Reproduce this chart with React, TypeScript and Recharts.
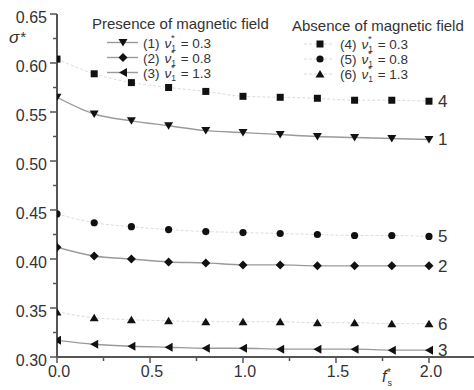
import React from 'react';
import { LineChart, Line, XAxis, YAxis, LabelList } from 'recharts';

const xValues = [0, 0.2, 0.4, 0.6, 0.8, 1.0, 1.2, 1.4, 1.6, 1.8, 2.0];
// Presence of magnetic field
const s1 = [0.565, 0.548, 0.541, 0.536, 0.531, 0.529, 0.527, 0.525, 0.524, 0.523, 0.522];
const s2 = [0.412, 0.403, 0.400, 0.397, 0.396, 0.394, 0.394, 0.393, 0.393, 0.393, 0.393];
const s3 = [0.317, 0.313, 0.311, 0.310, 0.309, 0.309, 0.308, 0.308, 0.308, 0.307, 0.307];
// Absence of magnetic field
const s4 = [0.604, 0.589, 0.580, 0.575, 0.571, 0.566, 0.565, 0.564, 0.562, 0.562, 0.561];
const s5 = [0.446, 0.437, 0.433, 0.430, 0.428, 0.427, 0.426, 0.425, 0.424, 0.424, 0.423];
const s6 = [0.346, 0.340, 0.338, 0.337, 0.336, 0.336, 0.336, 0.335, 0.335, 0.334, 0.334];

const xTicks = [0, 0.25, 0.5, 0.75, 1.0, 1.25, 1.5, 1.75, 2.0];
const yTicks = [0.3, 0.325, 0.35, 0.375, 0.4, 0.425, 0.45, 0.475, 0.5, 0.525, 0.55, 0.575, 0.6, 0.625, 0.65];

const data = xValues.map((x, i) => ({ x, s1: s1[i], s2: s2[i], s3: s3[i], s4: s4[i], s5: s5[i], s6: s6[i] }));

const FONT = '"Liberation Sans", Arial, sans-serif';
const AX = '#555';
const TXT = '#333';

const isMajor = (v: number, step: number) => Math.abs(v / step - Math.round(v / step)) < 1e-6;

const XTick = (props: any) => {
  const { x, y, payload } = props;
  const v = payload.value;
  const major = isMajor(v, 0.5);
  return (
    <g>
      <line x1={x} x2={x} y1={y} y2={y + (major ? 6 : 4)} stroke={AX} strokeWidth={1.5} />
      {major && (
        <text x={x + 2} y={y + 20} textAnchor="middle" fontSize={16} fill={TXT} fontFamily={FONT}>
          {v.toFixed(1)}
        </text>
      )}
    </g>
  );
};

const YTick = (props: any) => {
  const { x, y, payload } = props;
  const v = payload.value;
  const major = isMajor(v, 0.05);
  return (
    <g>
      <line x1={x - (major ? 7 : 4)} x2={x} y1={y} y2={y} stroke={AX} strokeWidth={1.5} />
      {major && (
        <text x={x - 10} y={y + 9} textAnchor="end" fontSize={16} fill={TXT} fontFamily={FONT}>
          {v.toFixed(2)}
        </text>
      )}
    </g>
  );
};

const EmptyTick = () => <g />;

type Shape = 'down' | 'diamond' | 'left' | 'square' | 'circle' | 'up';

const marker = (shape: Shape, cx: number, cy: number, key?: any) => {
  const f = '#111';
  switch (shape) {
    case 'down':
      return <polygon key={key} points={`${cx - 4.5},${cy - 3.5} ${cx + 4.5},${cy - 3.5} ${cx},${cy + 4}`} fill={f} />;
    case 'up':
      return <polygon key={key} points={`${cx - 4.5},${cy + 3.5} ${cx + 4.5},${cy + 3.5} ${cx},${cy - 4}`} fill={f} />;
    case 'left':
      return <polygon key={key} points={`${cx + 4},${cy - 4.5} ${cx + 4},${cy + 4.5} ${cx - 4},${cy}`} fill={f} />;
    case 'diamond':
      return <polygon key={key} points={`${cx},${cy - 4.5} ${cx + 4.5},${cy} ${cx},${cy + 4.5} ${cx - 4.5},${cy}`} fill={f} />;
    case 'square':
      return <rect key={key} x={cx - 3.5} y={cy - 3.5} width={7} height={7} fill={f} />;
    default:
      return <circle key={key} cx={cx} cy={cy} r={3.6} fill={f} />;
  }
};

const makeDot = (shape: Shape) => (p: any) => {
  if (p.cx == null || p.cy == null) return <g key={p.key} />;
  return marker(shape, p.cx, p.cy, p.key ?? `${shape}-${p.index}`);
};

const endLabel = (name: string) => (p: any) => {
  if (p.index !== xValues.length - 1) return null;
  return (
    <text x={p.x + 9} y={p.y + 6} fontSize={17} fill={TXT} fontFamily={FONT}>
      {name}
    </text>
  );
};

const series: { key: string; shape: Shape; name: string; solid: boolean }[] = [
  { key: 's4', shape: 'square', name: '4', solid: false },
  { key: 's5', shape: 'circle', name: '5', solid: false },
  { key: 's6', shape: 'up', name: '6', solid: false },
  { key: 's1', shape: 'down', name: '1', solid: true },
  { key: 's2', shape: 'diamond', name: '2', solid: true },
  { key: 's3', shape: 'left', name: '3', solid: true },
];

const presenceLegend: { shape: Shape; label: string; v: string }[] = [
  { shape: 'down', label: '(1)', v: '0.3' },
  { shape: 'diamond', label: '(2)', v: '0.8' },
  { shape: 'left', label: '(3)', v: '1.3' },
];
const absenceLegend: { shape: Shape; label: string; v: string }[] = [
  { shape: 'square', label: '(4)', v: '0.3' },
  { shape: 'circle', label: '(5)', v: '0.8' },
  { shape: 'up', label: '(6)', v: '1.3' },
];

const Nu = ({ x, y, label, v }: { x: number; y: number; label: string; v: string }) => (
  <text x={x} y={y} fontSize={13.5} fontFamily={FONT} fill={TXT}>
    {label}
    <tspan dx={5} fontStyle="italic">ν</tspan>
    <tspan fontSize={8.5} dy={3}>1</tspan>
    <tspan fontSize={9.5} dx={-5} dy={-10}>*</tspan>
    <tspan dx={6} dy={7}>{`= ${v}`}</tspan>
  </text>
);

export default function App() {
  return (
    <div style={{ position: 'absolute', left: 0, top: 0, width: 474, height: 390, background: '#fff' }}>
      <LineChart width={474} height={390} data={data} margin={{ top: 14, right: 0, bottom: 0, left: 0 }}>
        <XAxis
          dataKey="x"
          type="number"
          domain={[0, 2.242]}
          ticks={xTicks}
          interval={0}
          height={33}
          tickSize={0}
          tickMargin={0}
          tickLine={false}
          axisLine={{ stroke: AX, strokeWidth: 2 }}
          tick={<XTick />}
          allowDataOverflow
        />
        <XAxis
          xAxisId="top"
          orientation="top"
          type="number"
          dataKey="x"
          domain={[0, 2.242]}
          ticks={xTicks}
          interval={0}
          height={0}
          mirror
          tickSize={4}
          tick={<EmptyTick />}
          tickLine={{ stroke: AX, strokeWidth: 1.2 }}
          axisLine={{ stroke: AX, strokeWidth: 1.5 }}
          allowDataOverflow
        />
        <YAxis
          type="number"
          domain={[0.3, 0.65]}
          ticks={yTicks}
          interval={0}
          width={57}
          tickSize={0}
          tickMargin={0}
          tickLine={false}
          axisLine={{ stroke: AX, strokeWidth: 2 }}
          tick={<YTick />}
          allowDataOverflow
        />
        <YAxis
          yAxisId="right"
          orientation="right"
          type="number"
          domain={[0.3, 0.65]}
          ticks={yTicks}
          interval={0}
          width={0}
          mirror
          tickSize={4}
          tick={<EmptyTick />}
          tickLine={{ stroke: AX, strokeWidth: 1.2 }}
          axisLine={false}
          allowDataOverflow
        />
        {series.map((s) => (
          <Line
            key={s.key}
            dataKey={s.key}
            type="monotone"
            stroke={s.solid ? '#9a9a9a' : '#dcdcdc'}
            strokeWidth={s.solid ? 1.4 : 1}
            strokeDasharray={s.solid ? undefined : '3 2'}
            dot={makeDot(s.shape)}
            activeDot={false}
            isAnimationActive={false}
          >
            <LabelList dataKey={s.key} content={endLabel(s.name)} />
          </Line>
        ))}
      </LineChart>
      <svg
        width={474}
        height={390}
        style={{ position: 'absolute', left: 0, top: 0, pointerEvents: 'none' }}
      >
        <g fontFamily={FONT} fill={TXT}>
          <text x={9} y={43} fontSize={17}>
            <tspan fontStyle="italic">σ</tspan>
            <tspan fontSize={15} dx={1} dy={-1}>*</tspan>
          </text>
          <text x={382} y={382} fontSize={16}>
            <tspan fontStyle="italic">f</tspan>
            <tspan fontSize={9} dx={1} dy={4}>s</tspan>
            <tspan fontSize={10} dx={-5} dy={-10}>*</tspan>
          </text>
          <text x={92} y={29} fontSize={15}>Presence of magnetic field</text>
          <text x={292} y={31} fontSize={15}>Absence of magnetic field</text>
        </g>
        {presenceLegend.map((l, i) => {
          const y = 42.5 + i * 15;
          return (
            <g key={l.label}>
              <line x1={107} x2={138} y1={y} y2={y} stroke="#9a9a9a" strokeWidth={1.4} />
              {marker(l.shape, 123, y)}
              <Nu x={143} y={y + 5} label={l.label} v={l.v} />
            </g>
          );
        })}
        {absenceLegend.map((l, i) => {
          const y = 44 + i * 15;
          return (
            <g key={l.label}>
              <line x1={304} x2={332} y1={y} y2={y} stroke="#dcdcdc" strokeWidth={1} strokeDasharray="3 2" />
              {marker(l.shape, 320, y)}
              <Nu x={340} y={y + 5} label={l.label} v={l.v} />
            </g>
          );
        })}
      </svg>
    </div>
  );
}
